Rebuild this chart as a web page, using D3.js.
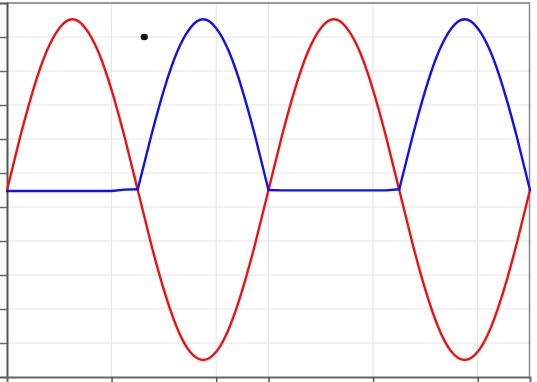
<!DOCTYPE html>
<html><head><meta charset="utf-8">
<script src="https://cdn.jsdelivr.net/npm/d3@7"></script>
<style>html,body{margin:0;padding:0;background:#fff;overflow:hidden}</style>
</head><body>
<svg id="c" width="537" height="382"></svg>
<script>
// time in ms
const time = [0,1,2,3,4,5,6,7,8,9,10,11,12,13,14,15,16,17,18,19,20,21,22,23,24,25,26,27,28,29,30,31,32,33,34,35,36,37,38,39,40];
const redValues = [0,1.55,2.94,4.05,4.76,5.02,4.76,4.05,2.94,1.55,0,-1.55,-2.94,-4.05,-4.76,-5.0,-4.76,-4.05,-2.94,-1.55,0,1.55,2.94,4.05,4.76,5.02,4.76,4.05,2.94,1.55,0,-1.55,-2.94,-4.05,-4.76,-5.0,-4.76,-4.05,-2.94,-1.55,0];
const blueValues = [-0.03,-0.03,-0.03,-0.03,-0.03,-0.03,-0.03,-0.03,-0.03,0.01,0.02,1.55,2.94,4.05,4.76,5.02,4.76,4.05,2.94,1.55,0,-0.01,-0.01,-0.01,-0.01,-0.01,-0.01,-0.01,-0.01,-0.01,0.02,1.55,2.94,4.05,4.76,5.02,4.76,4.05,2.94,1.55,0];
// indices where the blue trace switches between flat and hump
const blueBreaks = [0,10,20,30,40];
const xTicks = [8,16,20,28,36];
const yTicks = [-4.5,-3.5,-2.5,-1.5,-0.5,0.5,1.5,2.5,3.5,4.5];
const markerT = [10.5];
const markerV = [4.5];

const svg = d3.select("#c");
const x = d3.scaleLinear().domain([0,40]).range([7,530]);
const y = d3.scaleLinear().domain([-5.5,5.5]).range([377,3]);

// grid
svg.append("g").selectAll("line").data(yTicks).join("line")
  .attr("x1",7).attr("x2",529).attr("y1",d=>y(d)).attr("y2",d=>y(d))
  .attr("stroke","#e4e4e4").attr("stroke-width",1);
svg.append("g").selectAll("line").data(xTicks).join("line")
  .attr("x1",d=>x(d)).attr("x2",d=>x(d)).attr("y1",3).attr("y2",377)
  .attr("stroke","#e4e4e4").attr("stroke-width",1);

// border top/right
svg.append("line").attr("x1",7).attr("x2",530).attr("y1",3).attr("y2",3).attr("stroke","#999").attr("stroke-width",2);
svg.append("line").attr("x1",529.5).attr("x2",529.5).attr("y1",3).attr("y2",377).attr("stroke","#888").attr("stroke-width",1.5);

// axes
const yAxis = d3.axisLeft(y).tickValues(yTicks).tickSize(7).tickFormat("");
const gy = svg.append("g").attr("transform","translate(7,0)").call(yAxis);
gy.select(".domain").attr("stroke","#555").attr("stroke-width",2);
gy.selectAll(".tick line").attr("stroke","#666").attr("stroke-width",1.5);
const xAxis = d3.axisBottom(x).tickValues(xTicks).tickSize(6).tickFormat("");
const gx = svg.append("g").attr("transform","translate(0,377)").call(xAxis);
gx.select(".domain").attr("stroke","#666").attr("stroke-width",2);
gx.selectAll(".tick line").attr("stroke","#555").attr("stroke-width",1.5);

const pts = vals => vals.map((v,i)=>[time[i],v]);
const line = d3.line().x(d=>x(d[0])).y(d=>y(d[1])).curve(d3.curveNatural);

svg.append("path").datum(pts(redValues)).attr("d",line).attr("fill","none")
  .attr("stroke","#f01010").attr("stroke-width",2.4).attr("stroke-linejoin","round");

const bluePts = pts(blueValues);
const segs = d3.pairs(blueBreaks).map(([a,b])=>bluePts.slice(a,b+1));
svg.append("g").selectAll("path").data(segs).join("path")
  .attr("d",(d,i)=> (i%2===0 ? d3.line().x(p=>x(p[0])).y(p=>y(p[1])) : line)(d))
  .attr("fill","none").attr("stroke","#1010f0").attr("stroke-width",2.4)
  .attr("stroke-linejoin","round").attr("stroke-linecap","round");

svg.append("g").selectAll("ellipse").data(markerT).join("ellipse")
  .attr("cx",d=>x(d)).attr("cy",(d,i)=>y(markerV[i])).attr("rx",3.6).attr("ry",3.2)
  .attr("fill","#111");
</script>
</body></html>
